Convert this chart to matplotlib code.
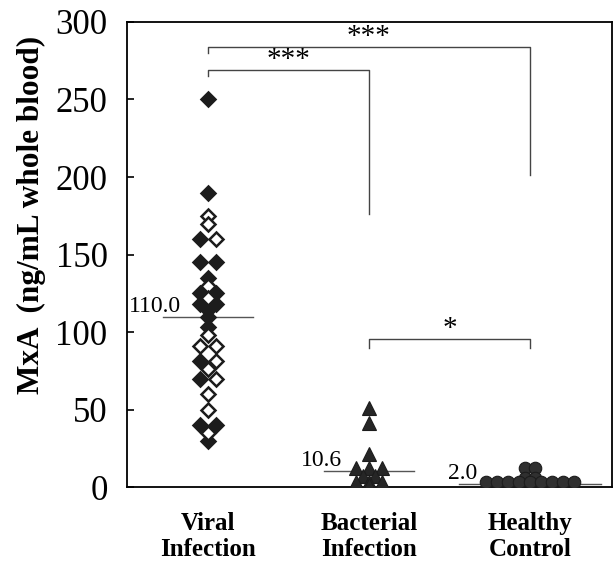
import matplotlib
matplotlib.use("Agg")
import matplotlib.pyplot as plt

plt.rcParams['font.family'] = ['Liberation Serif', 'DejaVu Serif']

# MxA values (ng/mL whole blood)
viral_filled = [250, 190, 160, 145, 145, 135, 125, 125, 118, 118, 114, 110,
                103, 81, 70, 40, 40, 30]
viral_open = [175, 170, 160, 130, 122, 98, 91, 91, 81, 76, 70, 60, 50, 35]
bacterial = [51, 41, 21, 12, 12, 12, 7, 7, 3, 3, 3, 1]
healthy = [12, 12, 6, 6, 3, 3, 3, 3, 3, 3, 3, 3, 3]

groups = ["Viral\nInfection", "Bacterial\nInfection", "Healthy\nControl"]
medians = [110.0, 10.6, 2.0]
yticks = [0, 50, 100, 150, 200, 250, 300]

# significance: (group a, group b, label)
comparisons = [(0, 2, "***"), (0, 1, "***"), (1, 2, "*")]


def spread(values, step):
    # put tied values side by side around the group centre
    counts = {}
    for v in values:
        counts[v] = counts.get(v, 0) + 1
    seen = {}
    offs = []
    for v in values:
        k = seen.get(v, 0)
        seen[v] = k + 1
        offs.append((k - (counts[v] - 1) / 2) * step)
    return offs


fig = plt.figure(figsize=(6.15, 5.64), dpi=100)
ax = fig.add_axes([0.2065, 0.1365, 0.7885, 0.8245])

dark = '#1c1c1c'

# viral: filled and open diamonds
vals = viral_filled + viral_open
filled = [True] * len(viral_filled) + [False] * len(viral_open)
offs = spread(vals, 0.099)
for v, dx, f in zip(vals, offs, filled):
    ax.plot(0 + dx, v, 'D', ms=7, mew=1.8, mec=dark,
            mfc=dark if f else 'white', zorder=3)

# bacterial: triangles
for v, dx in zip(bacterial, spread(bacterial, 0.078)):
    ax.plot(1 + dx, v, '^', ms=9.5, mew=0.8, mec=dark, mfc='#262626', zorder=3)

# healthy: circles
for v, dx in zip(healthy, spread(healthy, 0.068)):
    ax.plot(2 + dx, v, 'o', ms=9, mew=0.8, mec=dark, mfc='#303030', zorder=3)

# median lines with labels
half = [0.28, 0.28, 0.44]
for i, m in enumerate(medians):
    ax.plot([i - half[i], i + half[i]], [m, m], color='#555555', lw=1, zorder=2)
    ax.text(i - half[i] + 0.11, m + 3, f"{m:.1f}", ha='right', va='baseline',
            fontsize=17)

# significance brackets
bracket = {(0, 2): (284, 280, 201), (0, 1): (269, 265, 176), (1, 2): (95.5, 90, 90)}
for a, b, lab in comparisons:
    y, ya, yb = bracket[(a, b)]
    ax.plot([a, a, b, b], [ya, y, y, yb], color='#444444', lw=1, zorder=2)
    ax.text((a + b) / 2, y + 2, lab, ha='center', va='baseline', fontsize=21)

ax.set_xlim(-0.503, 2.509)
ax.set_ylim(0, 300)
ax.set_yticks(yticks)
ax.set_yticklabels([str(t) for t in yticks], fontsize=25)
ax.set_xticks(range(len(groups)))
ax.set_xticklabels(groups, fontsize=18, fontweight='bold', linespacing=1.15)
ax.tick_params(axis='y', direction='in', length=5, width=1.2, pad=14)
ax.tick_params(axis='x', length=0, pad=18)
for s in ax.spines.values():
    s.set_linewidth(1.3)

ax.set_ylabel("MxA  (ng/mL whole blood)", fontsize=22.5, fontweight='bold')
ax.yaxis.set_label_coords(-0.168, 0.585)

fig.savefig("out.png", dpi=100)
